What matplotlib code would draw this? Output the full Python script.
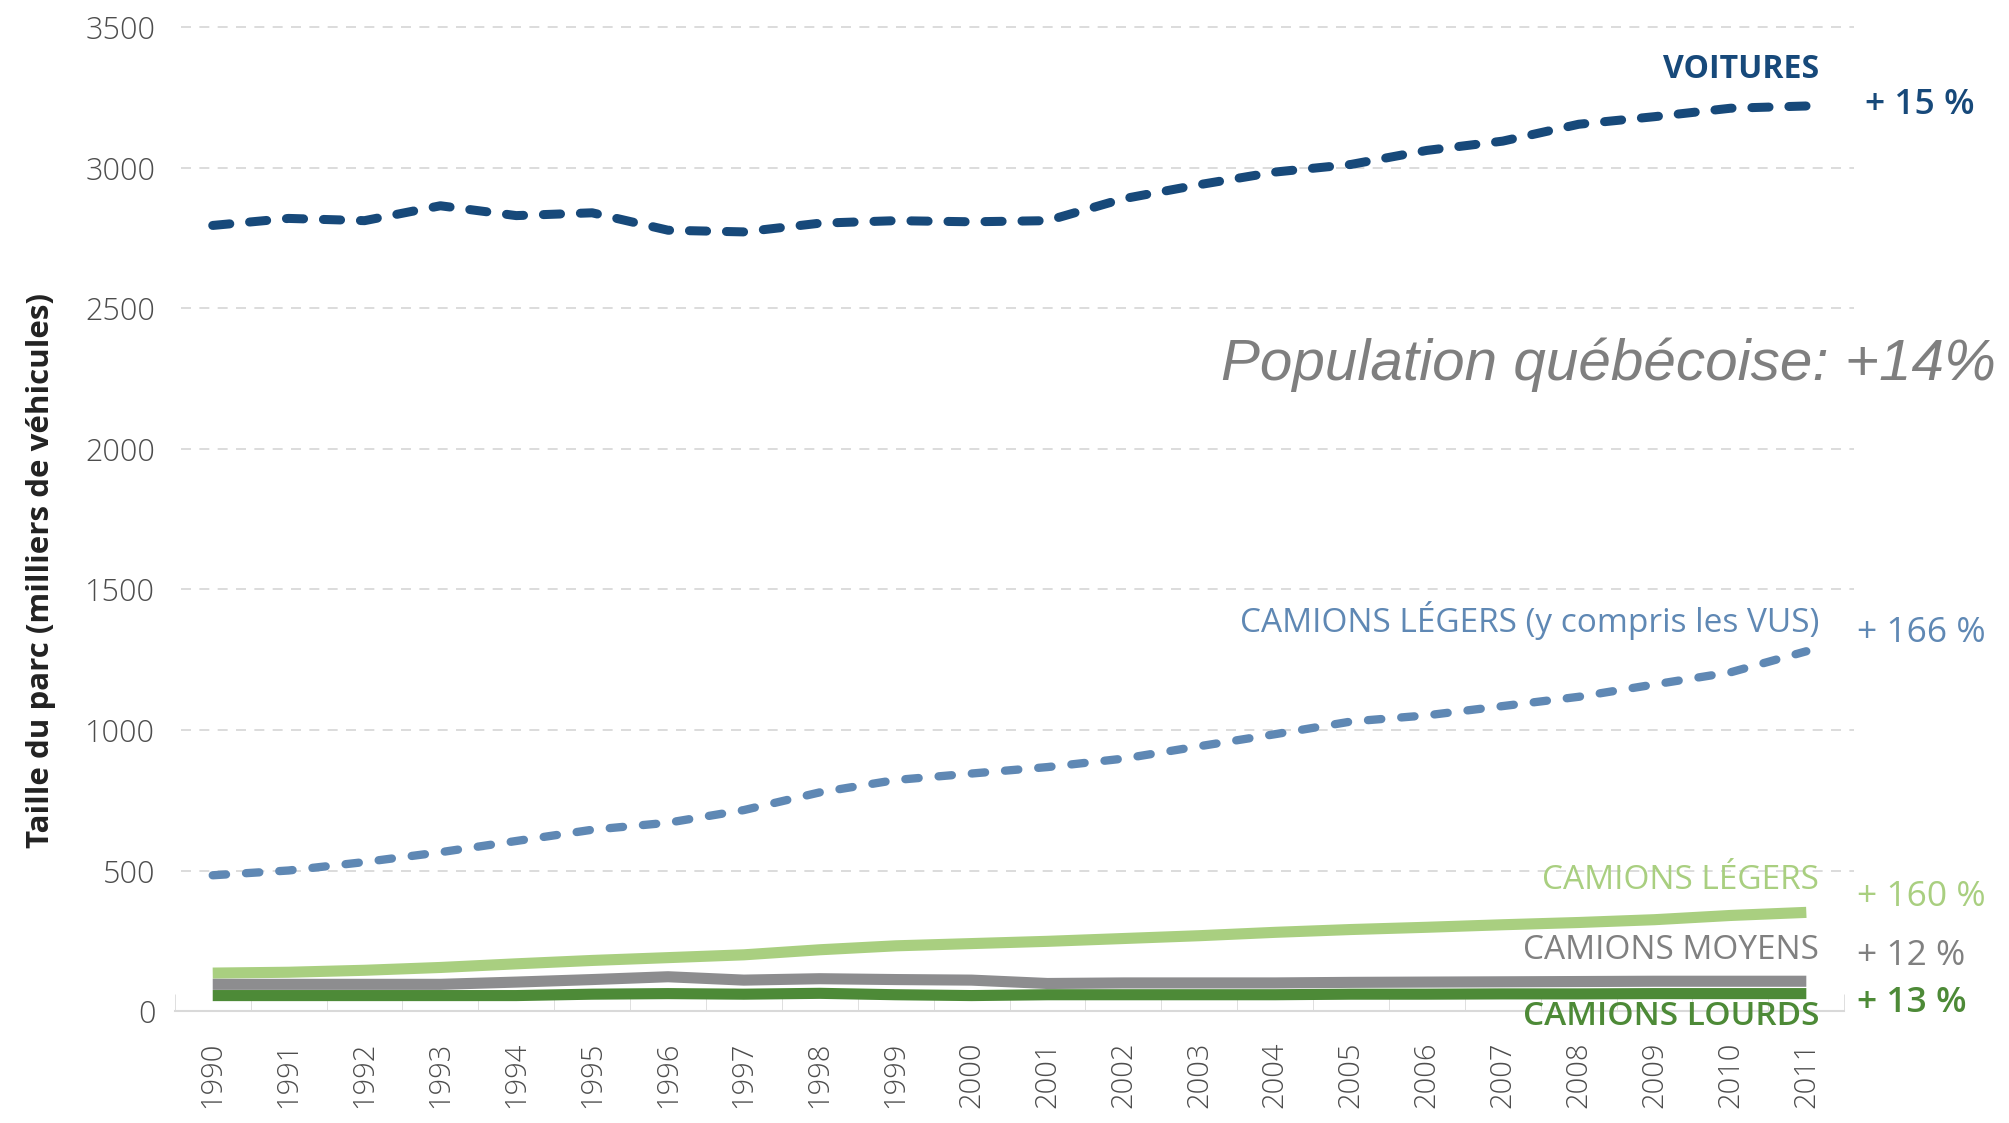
import matplotlib
matplotlib.use("Agg")
import matplotlib.pyplot as plt
from matplotlib.ticker import FixedLocator

years = [str(y) for y in range(1990, 2012)]

voitures = [2795, 2820, 2812, 2865, 2830, 2840, 2778, 2772, 2803, 2812, 2808,
            2812, 2890, 2940, 2985, 3012, 3062, 3095, 3155, 3182, 3212, 3220]
camions_vus = [483, 500, 530, 565, 605, 645, 670, 715, 778, 822, 845,
               868, 898, 942, 985, 1030, 1052, 1085, 1118, 1162, 1205, 1280]
camions_legers = [135, 138, 145, 155, 168, 180, 190, 200, 218, 232, 240,
                  248, 258, 268, 280, 290, 298, 307, 315, 325, 340, 351]
camions_moyens = [95, 95, 95, 95, 103, 112, 122, 110, 115, 112, 110,
                  98, 100, 100, 100, 102, 103, 104, 105, 106, 106, 106]
camions_lourds = [55, 55, 55, 55, 55, 60, 62, 60, 63, 58, 55,
                  58, 58, 58, 58, 60, 60, 61, 61, 62, 62, 62]

C_VOIT = "#17497a"
C_VUS = "#5f88b4"
C_LEG = "#a9cf80"
C_MOY = "#8d8d8f"
C_LOUR = "#4d8a37"

plt.rcParams["font.family"] = ["Open Sans", "DejaVu Sans"]

fig = plt.figure(figsize=(20.09, 11.23), dpi=100)
ax = fig.add_axes([0.087, 0.0997, 0.831, 0.876])

x = list(range(len(years)))
ax.plot(x, camions_legers, color=C_LEG, lw=8, solid_capstyle="butt")
ax.plot(x, camions_moyens, color=C_MOY, lw=8, solid_capstyle="butt")
ax.plot(x, camions_lourds, color=C_LOUR, lw=8, solid_capstyle="butt")
ax.plot(x, camions_vus, color=C_VUS, lw=6, dashes=(1.6, 2.4),
        dash_capstyle="round")
ax.plot(x, voitures, color=C_VOIT, lw=6.5, dashes=(1.9, 2.2),
        dash_capstyle="round")

ax.set_xlim(-0.5, len(years) - 0.5)
ax.set_ylim(0, 3500)
ax.set_xticks(x)
ax.set_xticklabels(years, rotation=90, fontsize=21, color="#4d4d4d")
ax.xaxis.set_minor_locator(FixedLocator([i + 0.5 for i in range(-1, len(years))]))
ax.tick_params(axis="x", which="major", length=0, pad=22)
ax.tick_params(axis="x", which="minor", length=12, direction="in",
               color="#d9d9d9")
ax.set_yticks(range(0, 3501, 500))
ax.tick_params(axis="y", length=0, labelsize=22, labelcolor="#4d4d4d", pad=14)
for lab in ax.get_yticklabels() + ax.get_xticklabels():
    lab.set_fontweight("light")

for v in range(500, 3501, 500):
    ax.axhline(v, xmin=0.004, xmax=1.006, color="#d6d6d6", lw=1.2,
               dashes=(6, 5), clip_on=False, zorder=0)

for s in ("top", "right", "left"):
    ax.spines[s].set_visible(False)
ax.spines["bottom"].set_color("#d9d9d9")
ax.spines["bottom"].set_linewidth(1.5)

ax.set_ylabel("Taille du parc (milliers de véhicules)", fontsize=22.5,
              fontweight="bold", color="#222222")
ax.yaxis.set_label_coords(-0.071, 0.448)

lab_x = 21.17
pct_x = 21.72
ax.text(lab_x, 3350, "VOITURES", ha="right", va="center", fontsize=23,
        fontweight="bold", color=C_VOIT, clip_on=False)
ax.text(pct_x + 0.05, 3225, "+ 15 %", ha="left", va="center", fontsize=25.5,
        fontweight="semibold", color=C_VOIT, clip_on=False)
ax.text(lab_x, 1388, "CAMIONS LÉGERS (y compris les VUS)", ha="right",
        va="center", fontsize=24, color=C_VUS, clip_on=False)
ax.text(pct_x - 0.05, 1345, "+ 166 %", ha="left", va="center", fontsize=25.5,
        color=C_VUS, clip_on=False)
ax.text(lab_x, 463, "CAMIONS LÉGERS", ha="right", va="center", fontsize=24,
        color=C_LEG, clip_on=False)
ax.text(pct_x - 0.05, 405, "+ 160 %", ha="left", va="center", fontsize=25.5,
        color=C_LEG, clip_on=False)
ax.text(lab_x, 214, "CAMIONS MOYENS", ha="right", va="center", fontsize=24,
        color="#808080", clip_on=False)
ax.text(pct_x - 0.05, 196, "+ 12 %", ha="left", va="center", fontsize=25.5,
        color="#808080", clip_on=False)
ax.text(lab_x, -20, "CAMIONS LOURDS", ha="right", va="center", fontsize=24,
        fontweight="semibold", color=C_LOUR, clip_on=False)
ax.text(pct_x - 0.05, 28, "+ 13 %", ha="left", va="center", fontsize=25.5,
        fontweight="semibold", color=C_LOUR, clip_on=False)

ax.text(23.5, 2300, "Population québécoise: +14%", ha="right", va="center",
        fontsize=42, style="italic", color="#7f7f7f",
        family=["Liberation Sans", "DejaVu Sans"], clip_on=False)

fig.savefig("out.png", dpi=100)
